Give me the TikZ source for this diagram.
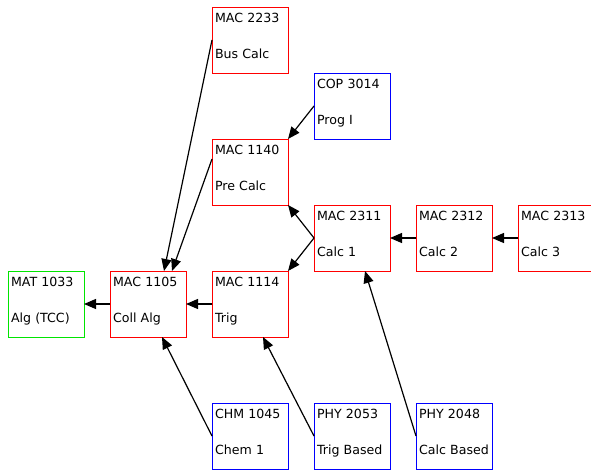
\documentclass[tikz,border=0pt]{standalone}
\usepackage{fontspec}
\setmainfont{DejaVu Sans}
\definecolor{boxred}{rgb}{1, 0, 0}
\definecolor{boxblue}{rgb}{0, 0, 1}
\definecolor{boxgreen}{rgb}{0, 0.9, 0}
\usetikzlibrary{arrows.meta}

\begin{document}
\begin{tikzpicture}[x=1pt,y=-1pt]
      \tikzstyle{course} = [draw,line width=1pt,anchor=north west,outer sep=0pt,inner xsep=3pt,inner ysep=0pt,text width=70pt,align=left,text height=15pt,text depth=51pt,font=\fontsize{12.6}{36.6}\selectfont]
      \tikzstyle{prereq} = [line width=1.2pt,->,>={Triangle[length=12pt,width=10pt]},draw=black]
      \useasboundingbox (0,0) rectangle (591,469);
      % courses
      \node[course,draw=boxgreen] (mat1033) at (8,271) {MAT 1033\\Alg (TCC)};
      \node[course,draw=boxred] (mac1105) at (110,271) {MAC 1105\\Coll Alg};
      \node[course,draw=boxred] (mac1114) at (212,271) {MAC 1114\\Trig};
      \node[course,draw=boxred] (mac1140) at (212,139) {MAC 1140\\Pre Calc};
      \node[course,draw=boxred] (mac2233) at (212,7) {MAC 2233\\Bus Calc};
      \node[course,draw=boxblue] (cop3014) at (314,73) {COP 3014\\Prog I};
      \node[course,draw=boxred] (mac2311) at (314,205) {MAC 2311\\Calc 1};
      \node[course,draw=boxred] (mac2312) at (416,205) {MAC 2312\\Calc 2};
      \node[course,draw=boxred] (mac2313) at (518,205) {MAC 2313\\Calc 3};
      \node[course,draw=boxblue] (chm1045) at (212,403) {CHM 1045\\Chem 1};
      \node[course,draw=boxblue] (phy2053) at (314,403) {PHY 2053\\Trig Based};
      \node[course,draw=boxblue] (phy2048) at (416,403) {PHY 2048\\Calc~Based};
      % prerequisites
      \draw[prereq] (mac1105.west) -- (mat1033.east);
      \draw[prereq] (mac1114.west) -- (mac1105.east);
      \draw[prereq] (mac2312.west) -- (mac2311.east);
      \draw[prereq] (mac2313.west) -- (mac2312.east);
      \draw[prereq] (mac2311.west) -- (mac1140.south east);
      \draw[prereq] (mac2311.west) -- (mac1114.north east);
      \draw[prereq] (cop3014.west) -- (mac1140.north east);
      \draw[prereq] (mac2233.west) -- ([xshift=-22pt]mac1105.north east);
      \draw[prereq] ([yshift=-20pt]mac1140.north west) -- ([xshift=-14pt]mac1105.north east);
      \draw[prereq] (chm1045.west) -- ([xshift=-24pt]mac1105.south east);
      \draw[prereq] (phy2053.west) -- ([xshift=-25pt]mac1114.south east);
      \draw[prereq] (phy2048.west) -- ([xshift=-25pt]mac2311.south east);
    \end{tikzpicture}
\end{document}
